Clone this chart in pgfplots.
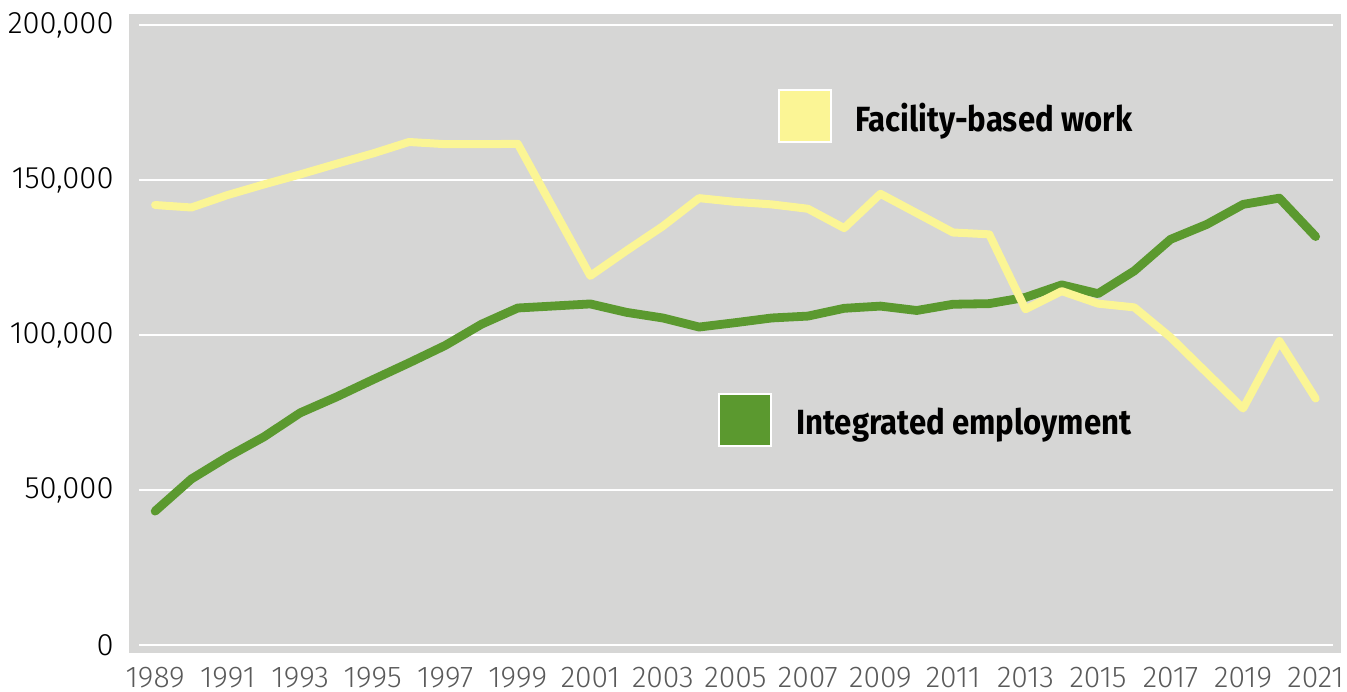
\documentclass[border=0pt]{standalone}
\usepackage{pgfplots}
\pgfplotsset{compat=1.18}
\usepackage{graphicx}
\usepackage{fontspec}
\setmainfont{Fira Sans}
\IfFontExistsTF{Fira Sans Light}{\newfontfamily\tickfont{Fira Sans Light}}{\newfontfamily\tickfont{Fira Sans}}
\definecolor{bggray}{RGB}{214,214,213}
\definecolor{facyel}{RGB}{251,245,149}
\definecolor{intgrn}{RGB}{91,153,47}
\definecolor{xlab}{RGB}{90,90,90}

\pgfplotstableread{
year fac int
1989 141930 43180
1990 141130 53550
1991 145150 60700
1992 148570 67140
1993 151800 74890
1994 155220 80020
1995 158540 85560
1996 162260 91000
1997 161560 96630
1998 161560 103480
1999 161660 108710
2001 119080 110020
2002 127230 107300
2003 135090 105490
2004 144150 102570
2005 142940 103980
2006 142130 105490
2007 140720 106100
2008 134480 108610
2009 145550 109320
2010 139310 107910
2011 133070 109920
2012 132470 110120
2013 108310 112140
2014 114150 116160
2015 110120 113340
2016 108910 120690
2017 99250 130860
2018 87780 135690
2019 76300 142130
2020 98040 144150
2021 79520 131760
}\datatable

\begin{document}
\begin{tikzpicture}
\begin{axis}[
  scale only axis, width=606pt, height=319.5pt,
  xmin=1988.28, xmax=2021.7, ymin=-2580, ymax=203550,
  axis background/.style={fill=bggray},
  axis line style={draw=none},
  major tick length=0pt,
  xtick={1989,1991,1993,1995,1997,1999,2001,2003,2005,2007,2009,2011,2013,2015,2017,2019,2021},
  xticklabels={1989,1991,1993,1995,1997,1999,2001,2003,2005,2007,2009,2011,2013,2015,2017,2019,2021},
  ytick={0,50000,100000,150000,200000},
  yticklabels={0,{50,000},{100,000},{150,000},{200,000}},
  xticklabel style={font=\tickfont\fontsize{15}{15}\selectfont,text=xlab,inner sep=0pt,anchor=north,yshift=-7pt},
  yticklabel style={font=\tickfont\fontsize{15.5}{15.5}\selectfont,text=black,inner sep=0pt,anchor=east,xshift=-7.5pt},
  clip=false,
]
% white guide lines, inset from the panel edges
\addplot[white,line width=1pt,forget plot] coordinates {(1988.56,0) (2021.47,0)};
\addplot[white,line width=1pt,forget plot] coordinates {(1988.56,50000) (2021.47,50000)};
\addplot[white,line width=1pt,forget plot] coordinates {(1988.56,100000) (2021.47,100000)};
\addplot[white,line width=1pt,forget plot] coordinates {(1988.56,150000) (2021.47,150000)};
\addplot[white,line width=1pt,forget plot] coordinates {(1988.56,200000) (2021.47,200000)};

\addplot[intgrn,line width=4.4pt,line join=round,line cap=round] table[x=year,y=int]{\datatable};
\addplot[facyel,line width=4pt,line join=round,line cap=round] table[x=year,y=fac]{\datatable};

\node[fill=facyel,draw=white,line width=1pt,minimum size=26pt,inner sep=0pt] at (axis cs:2006.92,170650) {};
\node[anchor=base west,inner sep=0pt,font=\bfseries\fontsize{17.5}{17.5}\selectfont] at (axis cs:2008.30,165800) {\scalebox{0.89}[1]{Facility-based work}};
\node[fill=intgrn,draw=white,line width=1pt,minimum size=26pt,inner sep=0pt] at (axis cs:2005.27,72600) {};
\node[anchor=base west,inner sep=0pt,font=\bfseries\fontsize{17.5}{17.5}\selectfont] at (axis cs:2006.67,67750) {\scalebox{0.89}[1]{Integrated employment}};
\coordinate (bgsw) at (rel axis cs:0,0);
\end{axis}
\pgfresetboundingbox
\path (bgsw) ++(-64.5pt,-19pt) rectangle ++(673.5pt,345.5pt);
\end{tikzpicture}
\end{document}
